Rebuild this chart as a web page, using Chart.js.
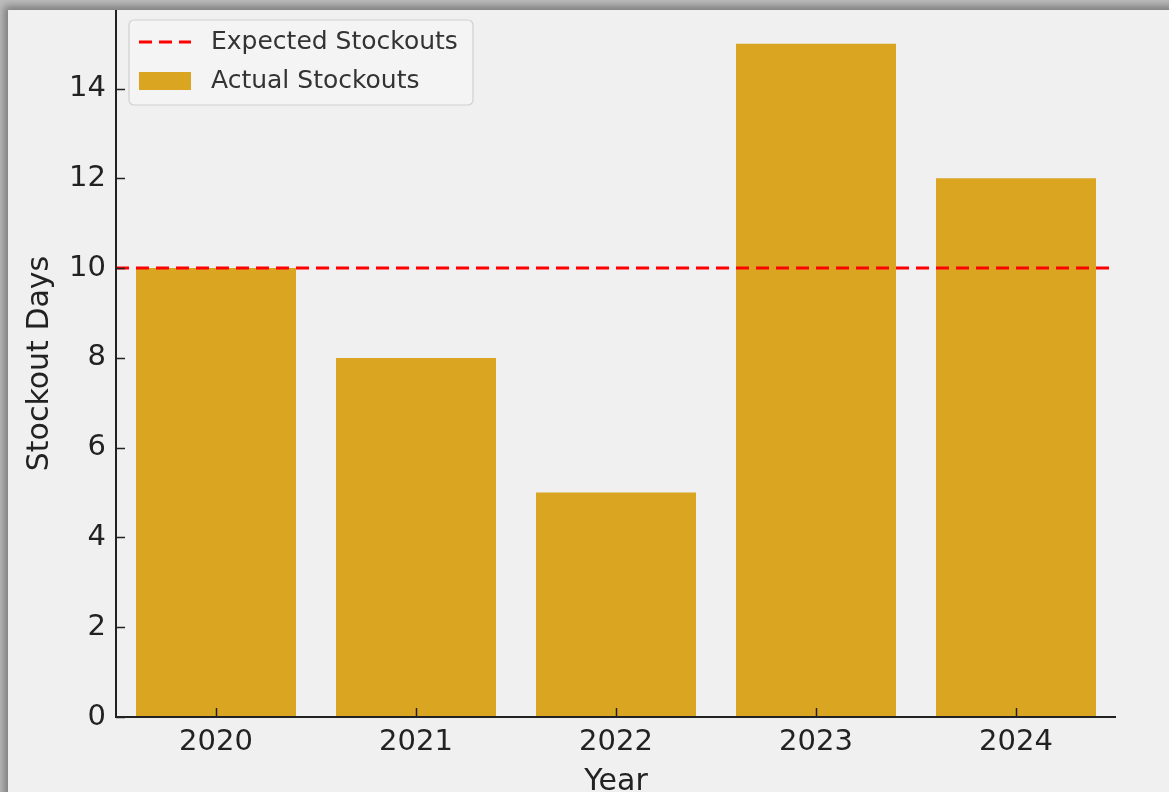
<!DOCTYPE html>
<html>
<head>
<meta charset="utf-8">
<script src="https://cdn.jsdelivr.net/npm/chart.js@4/dist/chart.umd.min.js"></script>
<style>
  html, body { margin: 0; padding: 0; width: 1169px; height: 792px; overflow: hidden; background: #bdbdbd; }
  #frame { position: absolute; left: 8px; top: 10px; width: 1200px; height: 820px; background: #f0f0f0;
           box-shadow: -4px -4px 8px rgba(0,0,0,0.35); }
  #wrap { position: absolute; left: 0; top: 0; width: 1169px; height: 792px; }
</style>
</head>
<body>
<div id="frame"></div>
<div id="wrap"><canvas id="c" width="1169" height="792"></canvas></div>
<script>
const categories = ['2020', '2021', '2022', '2023', '2024'];
const actualStockouts = [10, 8, 5, 15, 12];
const expectedStockouts = 10;
const yTicks = [0, 2, 4, 6, 8, 10, 12, 14];

const FONT = "'DejaVu Sans', sans-serif";
const BAR_COLOR = '#DAA520';
const LINE_COLOR = '#ff0000';

const inwardTicks = {
  id: 'inwardTicks',
  afterDatasetsDraw(chart) {
    const ctx = chart.ctx;
    const xs = chart.scales.x, ys = chart.scales.y;
    const area = chart.chartArea;
    ctx.save();
    ctx.strokeStyle = '#222';
    ctx.lineWidth = 1.5;
    for (let i = 0; i < categories.length; i++) {
      const px = Math.round(xs.getPixelForTick(i)) + 0.5;
      ctx.beginPath(); ctx.moveTo(px, area.bottom); ctx.lineTo(px, area.bottom - 9); ctx.stroke();
    }
    ys.ticks.forEach((t, i) => {
      const py = Math.round(ys.getPixelForTick(i)) + 0.5;
      ctx.beginPath(); ctx.moveTo(area.left, py); ctx.lineTo(area.left + 9, py); ctx.stroke();
    });
    ctx.lineWidth = 2;
    ctx.beginPath();
    ctx.moveTo(area.left, area.top); ctx.lineTo(area.left, area.bottom); ctx.lineTo(area.right, area.bottom);
    ctx.stroke();
    ctx.restore();
  }
};

const boxLegend = {
  id: 'boxLegend',
  afterDraw(chart) {
    const ctx = chart.ctx;
    const a = chart.chartArea;
    const x = a.left + 13, y = a.top + 10, w = 344, h = 85, r = 5;
    ctx.save();
    ctx.fillStyle = 'rgba(245,245,245,0.85)';
    ctx.strokeStyle = '#d0d0d0';
    ctx.lineWidth = 1.2;
    ctx.beginPath();
    ctx.roundRect(x, y, w, h, r);
    ctx.fill(); ctx.stroke();
    ctx.strokeStyle = LINE_COLOR; ctx.lineWidth = 3; ctx.setLineDash([13, 7]);
    ctx.beginPath(); ctx.moveTo(x + 10, y + 22); ctx.lineTo(x + 62, y + 22); ctx.stroke();
    ctx.setLineDash([]);
    ctx.fillStyle = BAR_COLOR;
    ctx.fillRect(x + 10, y + 52, 52, 18);
    ctx.fillStyle = '#333';
    ctx.font = '25px ' + FONT;
    ctx.textBaseline = 'middle';
    ctx.textAlign = 'left';
    ctx.fillText(chart.data.datasets[1].label, x + 82, y + 22);
    ctx.fillText(chart.data.datasets[0].label, x + 82, y + 61);
    ctx.restore();
  }
};

new Chart(document.getElementById('c'), {
  type: 'bar',
  data: {
    labels: categories,
    datasets: [
      {
        type: 'bar',
        label: 'Actual Stockouts',
        data: actualStockouts,
        backgroundColor: BAR_COLOR,
        categoryPercentage: 0.8,
        barPercentage: 1.0,
        grouped: false,
        xAxisID: 'x', yAxisID: 'y',
        order: 2
      },
      {
        type: 'line',
        label: 'Expected Stockouts',
        data: [{x: -0.5, y: expectedStockouts}, {x: categories.length - 0.5, y: expectedStockouts}],
        borderColor: LINE_COLOR,
        borderWidth: 3,
        borderDash: [13, 7],
        pointRadius: 0,
        fill: false,
        xAxisID: 'x2', yAxisID: 'y',
        order: 1
      }
    ]
  },
  options: {
    responsive: false,
    animation: false,
    layout: { padding: { top: 10, right: 53, left: 0, bottom: 0 } },
    plugins: { legend: { display: false }, tooltip: { enabled: false } },
    scales: {
      x: {
        type: 'category',
        offset: true,
        grid: { display: false, drawTicks: false },
        border: { display: false },
        ticks: { color: '#222', font: { family: FONT, size: 29 }, padding: 8, maxRotation: 0 },
        title: { display: true, text: 'Year', color: '#222', font: { family: FONT, size: 30 }, padding: { top: 0, bottom: -8 } },
        afterFit(s) { s.height = 75; }
      },
      x2: {
        type: 'linear',
        display: false,
        offset: false,
        min: -0.5,
        max: categories.length - 0.5
      },
      y: {
        type: 'linear',
        min: 0,
        max: 15.75,
        grid: { display: false, drawTicks: false },
        border: { display: false },
        afterBuildTicks(s) { s.ticks = yTicks.map(v => ({ value: v })); },
        ticks: { color: '#222', font: { family: FONT, size: 29 }, padding: 10 },
        title: { display: true, text: 'Stockout Days', color: '#222', font: { family: FONT, size: 30 }, padding: { top: 22, bottom: 8 } },
        afterFit(s) { s.width = 116; s.paddingTop = 0; s.paddingBottom = 0; }
      }
    }
  },
  plugins: [inwardTicks, boxLegend]
});
</script>
</body>
</html>
